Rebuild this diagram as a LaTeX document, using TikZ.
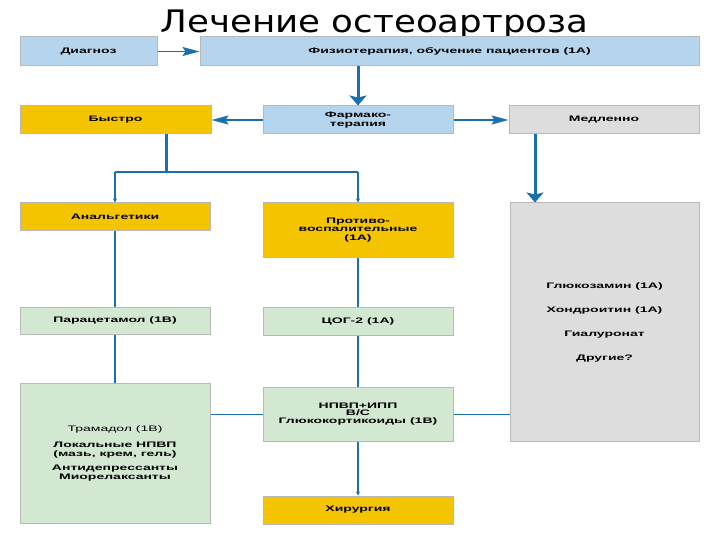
\documentclass[tikz,border=0pt]{standalone}
\usepackage{fontspec}
\setmainfont{Liberation Sans}
\newfontfamily\boxfont[FakeStretch=1.75]{Liberation Sans}
\newfontfamily\titlefont[FakeStretch=1.15]{DejaVu Sans}
\usetikzlibrary{arrows.meta,calc}
\definecolor{bxblue}{HTML}{B5D5EE}
\definecolor{bxyellow}{HTML}{F5C400}
\definecolor{bxgray}{HTML}{DDDDDD}
\definecolor{bxgreen}{HTML}{D3E8D0}
\definecolor{bxedge}{HTML}{B8B8B8}
\definecolor{conblue}{HTML}{1A70AC}
\begin{document}
\begin{tikzpicture}[x=1pt,y=-1pt,
  box/.style={draw=bxedge, line width=1pt, inner sep=0pt, align=center,
    font=\boxfont\bfseries\fontsize{8}{8.5}\selectfont, text=black},
  bluebox/.style={box, fill=bxblue},
  yelbox/.style={box, fill=bxyellow},
  graybox/.style={box, fill=bxgray},
  greenbox/.style={box, fill=bxgreen},
  thickcon/.style={draw=conblue, line width=3pt},
  midcon/.style={draw=conblue, line width=2.6pt},
  thincon/.style={draw=conblue, line width=1.5pt},
  haircon/.style={draw=conblue, line width=1pt},
  hhead/.style={-{Stealth[length=17pt,width=9pt,inset=3pt]}},
  vhead/.style={-{Stealth[length=10pt,width=17pt,inset=2pt]}},
  shead/.style={-{Stealth[length=4pt,width=4pt]}}
]
\useasboundingbox (0,0) rectangle (720,540);
\node[anchor=base, font=\titlefont\fontsize{31}{31}\selectfont] (title) at (374.5,32.5) {Лечение остеоартроза};

\node[bluebox, minimum width=137pt, minimum height=29pt] (diag) at (88.5,51.5) {Диагноз};
\node[bluebox, minimum width=499pt, minimum height=29pt] (fiz) at (449.5,51.5) {Физиотерапия, обучение пациентов (1А)};

\node[yelbox, minimum width=191pt, minimum height=28pt] (fast) at (115.5,120) {Быстро};
\node[bluebox, minimum width=190pt, minimum height=28pt] (pharm) at (358,120) {Фармако-\\терапия};
\node[graybox, minimum width=190pt, minimum height=28pt] (slow) at (604,120) {Медленно};

\node[yelbox, minimum width=190pt, minimum height=28pt] (anal) at (115,217) {Анальгетики};
\node[yelbox, minimum width=190pt, minimum height=54pt] (nsaid) at (358,230) {Противо-\\воспалительные\\(1А)};
\node[graybox, minimum width=189pt, minimum height=238pt,
  font=\boxfont\bfseries\fontsize{8}{24}\selectfont] (slowbox) at (604.5,322)
  {Глюкозамин (1А)\\Хондроитин (1А)\\Гиалуронат\\Другие?};

\node[greenbox, minimum width=190pt, minimum height=27pt] (para) at (115,320.5) {Парацетамол (1В)};
\node[greenbox, minimum width=190pt, minimum height=28pt] (cox) at (358,321) {ЦОГ-2 (1А)};

\node[greenbox, minimum width=190pt, minimum height=140pt] (other) at (115,453)
  {{\mdseries Трамадол (1В)}\\[8pt]Локальные НПВП\\(мазь, крем, гель)\\[6pt]Антидепрессанты\\Миорелаксанты};
\node[greenbox, minimum width=190pt, minimum height=54pt,
  font=\boxfont\bfseries\fontsize{8}{7.8}\selectfont] (npvp) at (358,414)
  {НПВП+ИПП\\В/С\\Глюкокортикоиды (1В)};
\node[yelbox, minimum width=190pt, minimum height=28pt] (surg) at (358,510) {Хирургия};

% connectors
\draw[thincon, hhead] (diag.east) -- (fiz.west);
\draw[thickcon, vhead] (fiz.south -| pharm.north) -- (pharm.north);
\draw[thincon, hhead] (pharm.west) -- (fast.east);
\draw[thincon, hhead] (pharm.east) -- (slow.west);

\coordinate (branch) at (166,172);
\coordinate (slowx) at (535,0);
\draw[thickcon] (branch |- fast.south) -- (branch);
\draw[thincon] (anal.north |- branch) -- (nsaid.north |- branch);
\draw[midcon, shead] (anal.north |- branch) -- (anal.north);
\draw[midcon, shead] (nsaid.north |- branch) -- (nsaid.north);
\draw[thickcon, vhead] (slowx |- slow.south) -- (slowx |- slowbox.north);

\draw[midcon] (anal.south) -- (para.north);
\draw[midcon] (para.south) -- (other.north);
\draw[midcon] (nsaid.south) -- (cox.north);
\draw[midcon] (cox.south) -- (npvp.north);
\draw[midcon, shead] (npvp.south) -- (surg.north);

\draw[haircon] (other.east |- npvp.west) -- (npvp.west);
\draw[haircon] (npvp.east) -- (npvp.east -| slowbox.west);
\end{tikzpicture}
\end{document}
